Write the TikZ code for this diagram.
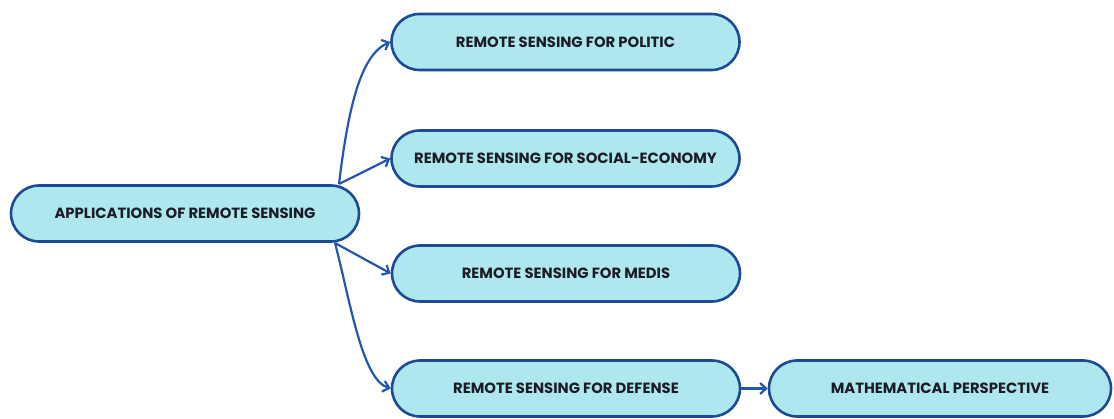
\documentclass[tikz,border=0pt]{standalone}
\usepackage{fontspec}
\setmainfont{Poppins}
\usetikzlibrary{arrows.meta}
\definecolor{boxfill}{HTML}{AEE8EE}
\definecolor{boxline}{HTML}{1D4A96}
\definecolor{arrowc}{HTML}{2456AE}
\definecolor{txt}{HTML}{1C1C28}
\begin{document}
\begin{tikzpicture}[x=1pt,y=-1pt,
  box/.style={draw=boxline, fill=boxfill, line width=2.6pt, rectangle,
    rounded corners=28pt, minimum height=56pt, inner sep=0pt,
    font=\bfseries\fontsize{14.8}{16}\selectfont, text=txt},
  conn/.style={draw=arrowc, line width=2.2pt, -{Straight Barb[length=6pt,width=11pt,line width=2.2pt]}}]
\useasboundingbox (0,0) rectangle (1114,419);
\node[box, minimum width=348pt] (root) at (185,213.5) {APPLICATIONS OF REMOTE SENSING};
\node[box, minimum width=348pt] (pol) at (565.5,42) {REMOTE SENSING FOR POLITIC};
\node[box, minimum width=348pt] (soc) at (565.5,158.5) {REMOTE SENSING FOR SOCIAL-ECONOMY};
\node[box, minimum width=348pt] (med) at (566,273.5) {REMOTE SENSING FOR MEDIS};
\node[box, minimum width=348pt] (def) at (566,388.5) {REMOTE SENSING FOR DEFENSE};
\node[box, minimum width=342pt] (math) at (940,388.5) {MATHEMATICAL PERSPECTIVE};
\coordinate (rt) at (339,184);
\coordinate (rb) at (335,243);
\draw[conn] (rt) .. controls (348,110) and (360,55) .. (pol.west);
\draw[conn] (rt) -- (soc.west);
\draw[conn] (rb) -- (med.west);
\draw[conn] (rb) .. controls (350,300) and (362,380) .. (def.west);
\draw[conn] (def.east) -- (math.west);
\end{tikzpicture}
\end{document}
